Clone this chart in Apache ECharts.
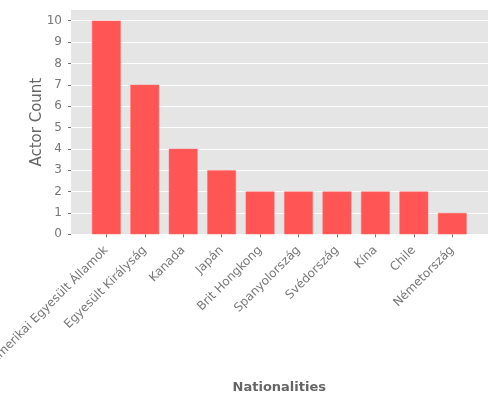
<!DOCTYPE html>
<html lang="hu">
<head>
    <meta charset="UTF-8">
    <title>Actor Count</title>
    <script src="https://cdn.jsdelivr.net/npm/echarts@6/dist/echarts.min.js"></script>
</head>
<body style="margin:0;">
<div id="container" style="width:500px;height:400px;"></div>
<script>
    var nationalities = [
        'Amerikai Egyesült Államok', 'Egyesült Királyság', 'Kanada', 'Japán',
        'Brit Hongkong', 'Spanyolország', 'Svédország', 'Kína', 'Chile', 'Németország'
    ];
    var actorCounts = [10, 7, 4, 3, 2, 2, 2, 2, 2, 1];
    var yTicks = [0, 1, 2, 3, 4, 5, 6, 7, 8, 9, 10];

    var font = 'DejaVu Sans';
    var myChart = echarts.init(document.getElementById('container'));

    var option = {
        animation: false,
        textStyle: {fontFamily: font},
        grid: [
            // gray panel with y axis
            {left: 71, right: 12, top: 10, bottom: 165.7, show: true, outerBoundsMode: 'none',
             backgroundColor: '#E5E5E5', borderWidth: 0},
            // bars
            {left: 87.1, right: 28.5, top: 10, bottom: 165.7, outerBoundsMode: 'none'}
        ],
        xAxis: [
            {gridIndex: 0, type: 'value', show: false, min: 0, max: 1},
            {
                gridIndex: 1,
                type: 'category',
                data: nationalities,
                offset: 4,
                name: 'Nationalities',
                nameLocation: 'middle',
                nameGap: 143,
                nameMoveOverlap: false,
                nameTextStyle: {color: '#666', fontSize: 13, fontWeight: 'bold', fontFamily: font},
                axisLine: {show: false},
                axisTick: {show: true, alignWithLabel: true, length: 3, lineStyle: {color: '#777'}},
                axisLabel: {
                    rotate: 45, margin: 10, interval: 0,
                    color: '#777', fontSize: 12, fontFamily: font
                },
                splitLine: {show: false}
            }
        ],
        yAxis: [
            {
                gridIndex: 0,
                type: 'value',
                min: 0,
                max: 10.5,
                offset: 3,
                name: 'Actor Count',
                nameLocation: 'middle',
                nameGap: 23,
                nameMoveOverlap: false,
                nameTextStyle: {color: '#666', fontSize: 15, fontFamily: font},
                axisLine: {show: false},
                axisTick: {show: true, length: 3, customValues: yTicks, lineStyle: {color: '#777'}},
                axisLabel: {
                    color: '#777', fontSize: 12, margin: 6, fontFamily: font,
                    customValues: yTicks
                },
                splitLine: {show: true, lineStyle: {color: '#fff', width: 1}}
            },
            {gridIndex: 1, type: 'value', show: false, min: 0, max: 10.5}
        ],
        series: [{
            type: 'bar',
            xAxisIndex: 1,
            yAxisIndex: 1,
            data: actorCounts,
            barWidth: '75%',
            itemStyle: {color: '#FF5555', borderColor: '#FF7070', borderWidth: 0.5}
        }]
    };
    myChart.setOption(option);
</script>
</body>
</html>
